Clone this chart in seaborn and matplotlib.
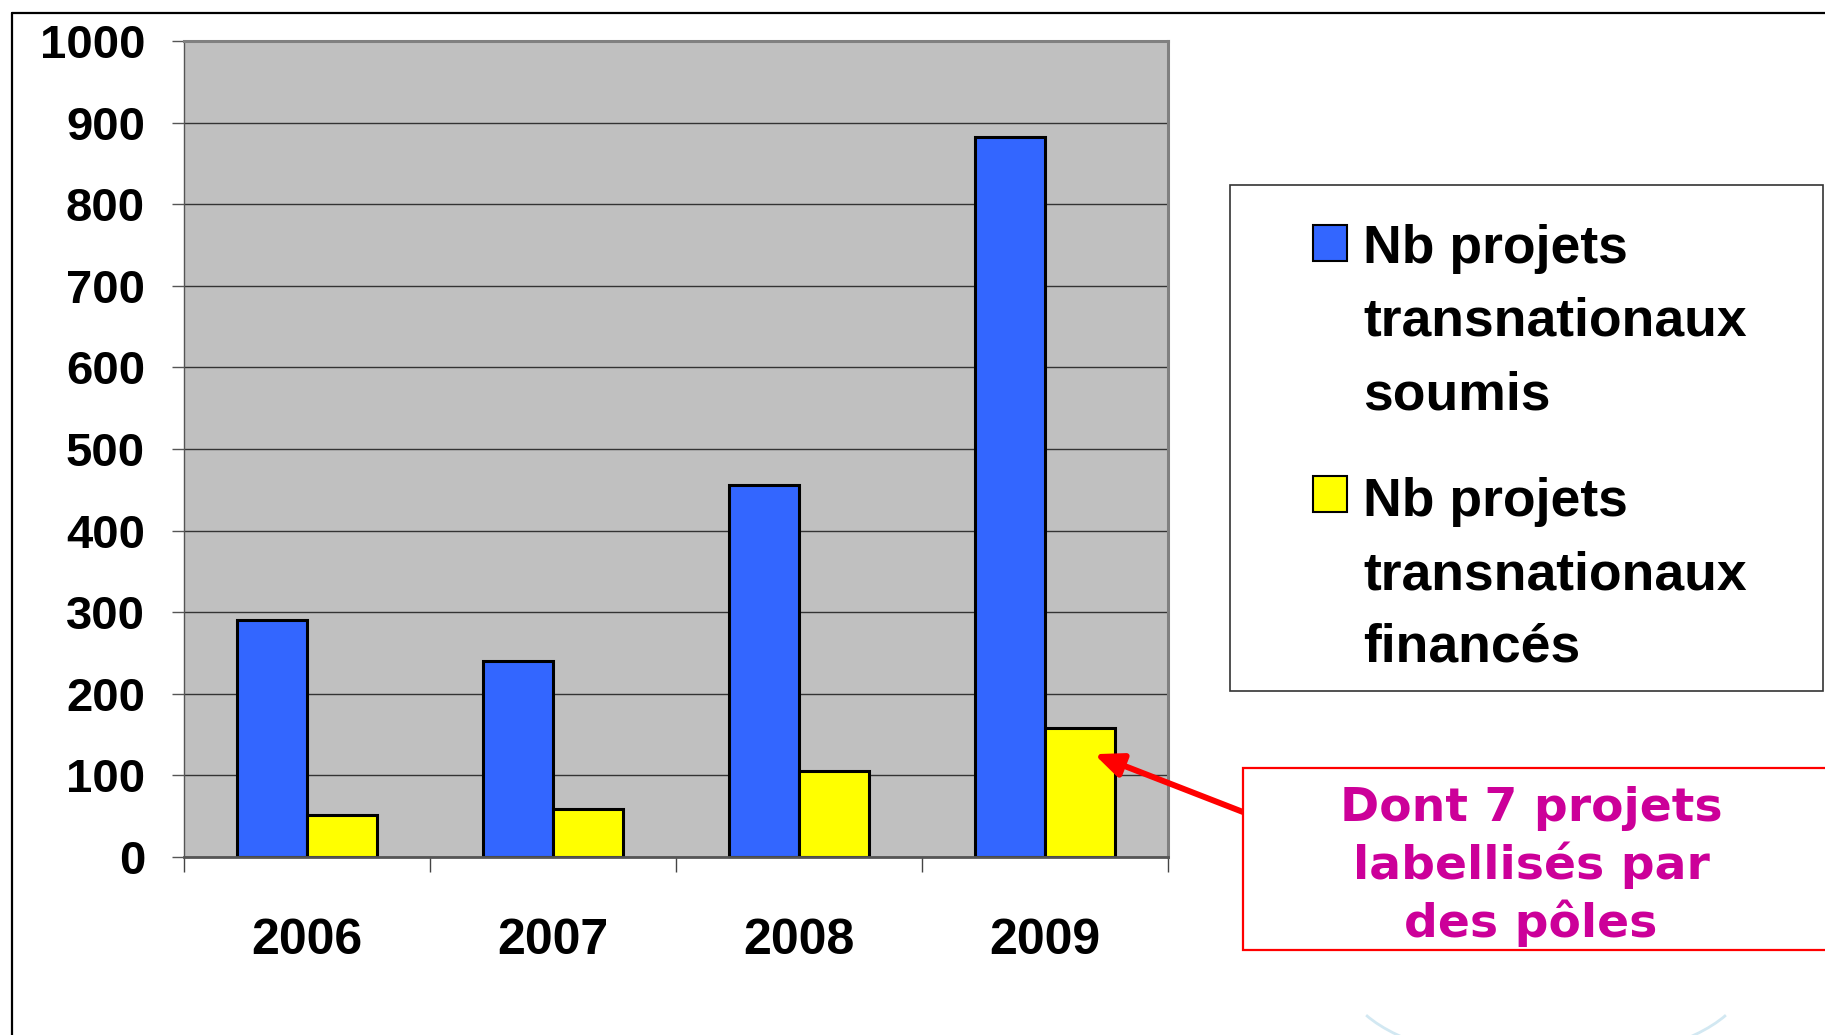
import matplotlib
matplotlib.use('Agg')
import matplotlib.pyplot as plt
import seaborn as sns
import pandas as pd
from matplotlib.patches import Rectangle, Arc
from matplotlib.lines import Line2D

years = ['2006', '2007', '2008', '2009']
soumis = [290, 240, 456, 882]
finances = [52, 59, 105, 158]
series = ['soumis', 'financés']
legend_lines = [['Nb projets', 'transnationaux', 'soumis'],
                ['Nb projets', 'transnationaux', 'financés']]
colors = ['#3366FF', '#FFFF00']
note_lines = ['Dont 7 projets', 'labellisés par', 'des pôles']
yticks = list(range(0, 1001, 100))

df = pd.DataFrame({'year': years * 2,
                   'value': soumis + finances,
                   'serie': [series[0]] * 4 + [series[1]] * 4})

sns.set_theme(style='white')
plt.rcParams['font.family'] = ['Liberation Sans', 'DejaVu Sans']
plt.rcParams['text.color'] = 'black'
plt.rcParams['xtick.labelcolor'] = 'black'
plt.rcParams['ytick.labelcolor'] = 'black'

W, H = 1825, 1035
fx = lambda px: px / W
fy = lambda py: 1 - py / H

fig = plt.figure(figsize=(W / 100, H / 100), dpi=100)
ax = fig.add_axes([fx(184), fy(857), fx(1168) - fx(184), fy(41) - fy(857)])

sns.barplot(data=df, x='year', y='value', hue='serie', palette=colors,
            saturation=1, width=0.57, gap=0, edgecolor='black', linewidth=2.2,
            legend=False, ax=ax)

ax.set_facecolor('#C0C0C0')
ax.set_xlim(-0.5, 3.5)
ax.set_ylim(0, 1000)
ax.set_yticks(yticks)
ax.yaxis.grid(True, color='#333333', linewidth=1.0)
ax.set_axisbelow(True)
ax.set_xlabel('')
ax.set_ylabel('')

ax.spines['top'].set_color('#808080')
ax.spines['top'].set_linewidth(2.2)
ax.spines['right'].set_color('#808080')
ax.spines['right'].set_linewidth(2.2)
ax.spines['left'].set_color('#555555')
ax.spines['left'].set_linewidth(1.0)
ax.spines['bottom'].set_color('#555555')
ax.spines['bottom'].set_linewidth(2.0)

ax.tick_params(axis='y', left=True, length=9, width=1.0, color='#555555',
               pad=19, labelsize=34, labelcolor='black')
ax.set_xticks(range(4))
ax.set_xticklabels(years)
ax.tick_params(axis='x', which='major', bottom=True, length=0, pad=44,
               labelsize=36, labelcolor='black')
ax.set_xticks([-0.5, 0.5, 1.5, 2.5, 3.5], minor=True)
ax.tick_params(axis='x', which='minor', bottom=True, length=11, width=1.0,
               color='#444444')
for lab in ax.get_yticklabels() + ax.get_xticklabels():
    lab.set_fontweight('bold')

# legend box drawn by hand so each swatch sits by the first line
fig.add_artist(Rectangle((fx(1230), fy(691)), fx(1823) - fx(1230), fy(185) - fy(691),
                         transform=fig.transFigure, facecolor='white',
                         edgecolor='#333333', linewidth=1.2))
swatch_tops = [225, 476]
base_rows = [[263, 336, 410], [516, 589, 661]]
for c, top, rows, lines in zip(colors, swatch_tops, base_rows, legend_lines):
    fig.add_artist(Rectangle((fx(1313), fy(top + 36)), fx(1347) - fx(1313), fy(top) - fy(top + 36),
                             transform=fig.transFigure, facecolor=c,
                             edgecolor='black', linewidth=1.5))
    for y, txt in zip(rows, lines):
        fig.text(fx(1363), fy(y), txt, fontsize=38.5, fontweight='bold',
                 color='black', va='baseline', ha='left')

# annotation box
fig.add_artist(Rectangle((fx(1243), fy(950)), fx(1830) - fx(1243), fy(768) - fy(950),
                         transform=fig.transFigure, facecolor='white',
                         edgecolor='#FF0000', linewidth=1.6))
for y, txt in zip([821, 879, 937], note_lines):
    fig.text(fx(1531), fy(y), txt, fontsize=34, fontweight='bold',
             family='DejaVu Sans', color='#CC0099', ha='center', va='baseline')

ax.annotate('', xy=(3.2, 126), xycoords='data',
            xytext=(fx(1243), fy(812)), textcoords='figure fraction',
            arrowprops=dict(arrowstyle='-|>,head_length=1.4,head_width=0.6',
                            color='#FF0000', lw=4.3, shrinkA=0, shrinkB=0),
            annotation_clip=False)

# faint decoration at the bottom of the slide
fig.add_artist(Arc((fx(1546), fy(978)), 400 / W, 170 / H, theta1=200, theta2=340,
                   transform=fig.transFigure, color='#D2E8F2', linewidth=2.0))

# slide frame
fig.add_artist(Line2D([fx(12), fx(12)], [fy(13), 0], transform=fig.transFigure,
                      color='black', linewidth=1.6))
fig.add_artist(Line2D([fx(12), 1], [fy(13), fy(13)], transform=fig.transFigure,
                      color='black', linewidth=1.6))

plt.savefig('out.png', dpi=100)
